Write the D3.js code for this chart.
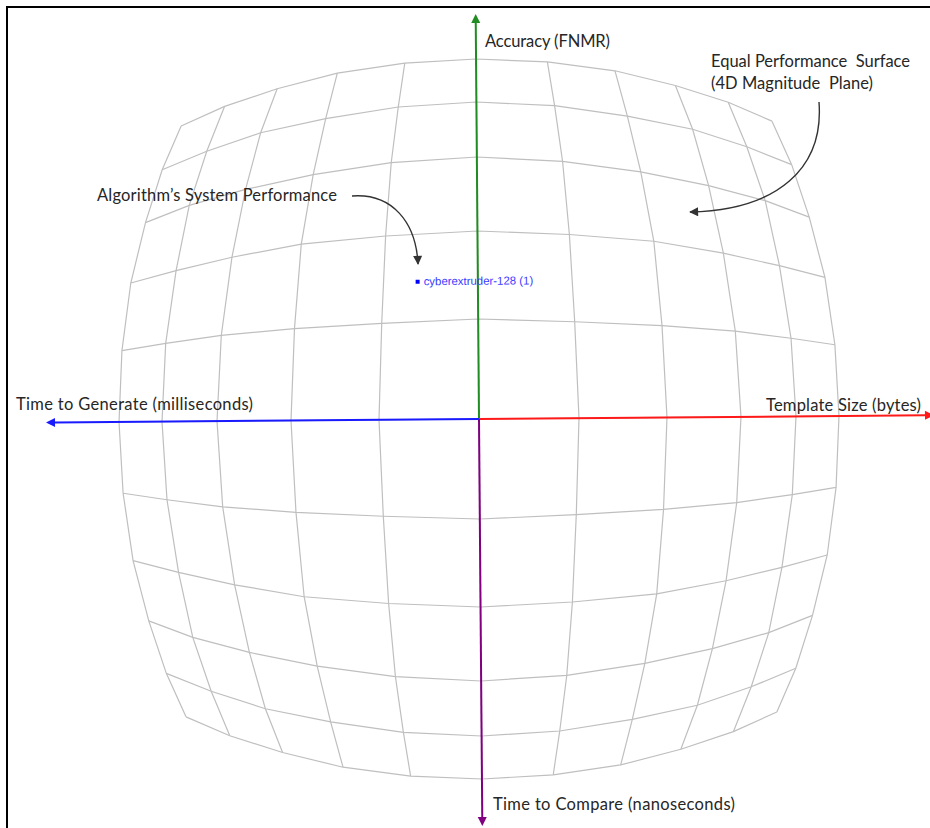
<!DOCTYPE html>
<html><head><meta charset="utf-8">
<script src="https://cdn.jsdelivr.net/npm/d3@7"></script>
<style>body{margin:0;background:#fff}svg{display:block}text{white-space:pre}</style>
</head><body>
<svg id="chart" width="930" height="828"></svg>
<script>
// ---- data ----
const gridTicks = [-5, -4, -3, -2, -1, 0, 1, 2, 3, 4, 5];
const axisNames = ["Accuracy (FNMR)", "Template Size (bytes)", "Time to Compare (nanoseconds)", "Time to Generate (milliseconds)"];
const axisDirections = ["up", "right", "down", "left"];
const axisColors = ["#218c21", "#ff1a1a", "#800080", "#1a1aff"];
const pointNames = ["cyberextruder-128 (1)"];
const pointX = [-0.63];
const pointY = [1.44];
const surfaceLabel = ["Equal Performance  Surface", "(4D Magnitude  Plane)"];
const performanceLabel = ["Algorithm\u2019s System Performance"];

// ---- layout ----
const W = 930, H = 828, cx = 479, cy = 419, tilt = -0.47;
const svg = d3.select("#chart");
const FONT = "Lato, 'Open Sans', sans-serif";
const FS = 16.5;

// radial fisheye profile (grid units -> pixels)
const radial = d3.scaleLinear()
  .domain([0, 1, 2, 3, 4, 5, 5.39, 5.83, 6.4, 7.08])
  .range([0, 100, 188, 262, 317, 360, 374, 387, 403, 418]);
const ux = d3.scaleLinear().domain([-1, 1]).range([-1, 1]);
const uy = d3.scaleLinear().domain([-1, 1]).range([1, -1]);
function project(x, y) {
  const u = ux(x), v = uy(y), r = Math.hypot(u, v);
  if (r === 0) return [cx, cy];
  const rp = radial(r);
  return [cx + u / r * rp, cy + v / r * rp];
}

// border
svg.append("path").attr("d", `M7,${H} V7 H${W}`).attr("fill", "none")
  .attr("stroke", "#000").attr("stroke-width", 2);

const g = svg.append("g").attr("transform", `rotate(${tilt},${cx},${cy})`);
const line = d3.line();

// grid polylines
const gridG = g.append("g").attr("fill", "none").attr("stroke", "#bfbfbf").attr("stroke-width", 1.2);
gridTicks.forEach(t => {
  gridG.append("path").attr("d", line(gridTicks.map(s => project(t, s))));
  gridG.append("path").attr("d", line(gridTicks.map(s => project(s, t))));
});

// axes
const axisLen = {up: 405, down: 407, left: 433, right: 455};
const dirVec = {up: [0, -1], down: [0, 1], left: [-1, 0], right: [1, 0]};
axisDirections.forEach((d, i) => {
  const [dx, dy] = dirVec[d], L = axisLen[d];
  const tip = [cx + dx * L, cy + dy * L];
  const base = [cx + dx * (L - 9), cy + dy * (L - 9)];
  g.append("line").attr("x1", cx).attr("y1", cy).attr("x2", base[0]).attr("y2", base[1])
    .attr("stroke", axisColors[i]).attr("stroke-width", 2);
  const px = -dy * 4.5, py = dx * 4.5;
  g.append("path").attr("d", `M${tip[0]},${tip[1]} L${base[0] + px},${base[1] + py} L${base[0] - px},${base[1] - py} Z`)
    .attr("fill", axisColors[i]);
});

// point
pointNames.forEach((n, i) => {
  const [x, y] = project(pointX[i], pointY[i]);
  g.append("rect").attr("x", x - 2).attr("y", y - 2).attr("width", 4).attr("height", 4).attr("fill", "#0000ff");
  g.append("text").attr("x", x + 6).attr("y", y + 3.5).text(n)
    .attr("font-family", "'Liberation Sans', Arial, sans-serif").attr("font-size", 11.4).attr("fill", "#3b3bff");
});

// axis labels
const labelPos = {up: [485, 47, 125], right: [766, 411, 155], down: [493, 810, 242], left: [16, 410, 237]};
axisDirections.forEach((d, i) => {
  const [x, y, w] = labelPos[d];
  svg.append("text").attr("x", x).attr("y", y).attr("textLength", w).attr("lengthAdjust", "spacing")
    .text(axisNames[i]).attr("font-family", FONT).attr("font-size", FS).attr("fill", "#262626");
});

// annotations
svg.append("text").attr("x", 97).attr("y", 201).attr("textLength", 240).attr("lengthAdjust", "spacing")
  .text(performanceLabel[0]).attr("font-family", FONT).attr("font-size", FS).attr("fill", "#262626");
const surfW = [199, 162];
surfaceLabel.forEach((s, i) => {
  svg.append("text").attr("x", 711).attr("y", 67 + i * 22).attr("textLength", surfW[i]).attr("lengthAdjust", "spacing")
    .text(s).attr("font-family", FONT).attr("font-size", FS).attr("fill", "#262626");
});

const defs = svg.append("defs");
defs.append("marker").attr("id", "ah").attr("viewBox", "0 0 10 10").attr("refX", 9).attr("refY", 5)
  .attr("markerUnits", "userSpaceOnUse").attr("markerWidth", 10).attr("markerHeight", 9).attr("orient", "auto")
  .append("path").attr("d", "M0,0 L10,5 L0,10 Z").attr("fill", "#333");
svg.append("path").attr("d", "M352,196 C392,193 416,222 418,264")
  .attr("fill", "none").attr("stroke", "#333").attr("stroke-width", 1.4).attr("marker-end", "url(#ah)");
svg.append("path").attr("d", "M819,102 C824,168 778,210 690,212")
  .attr("fill", "none").attr("stroke", "#333").attr("stroke-width", 1.4).attr("marker-end", "url(#ah)");
</script>
</body></html>
